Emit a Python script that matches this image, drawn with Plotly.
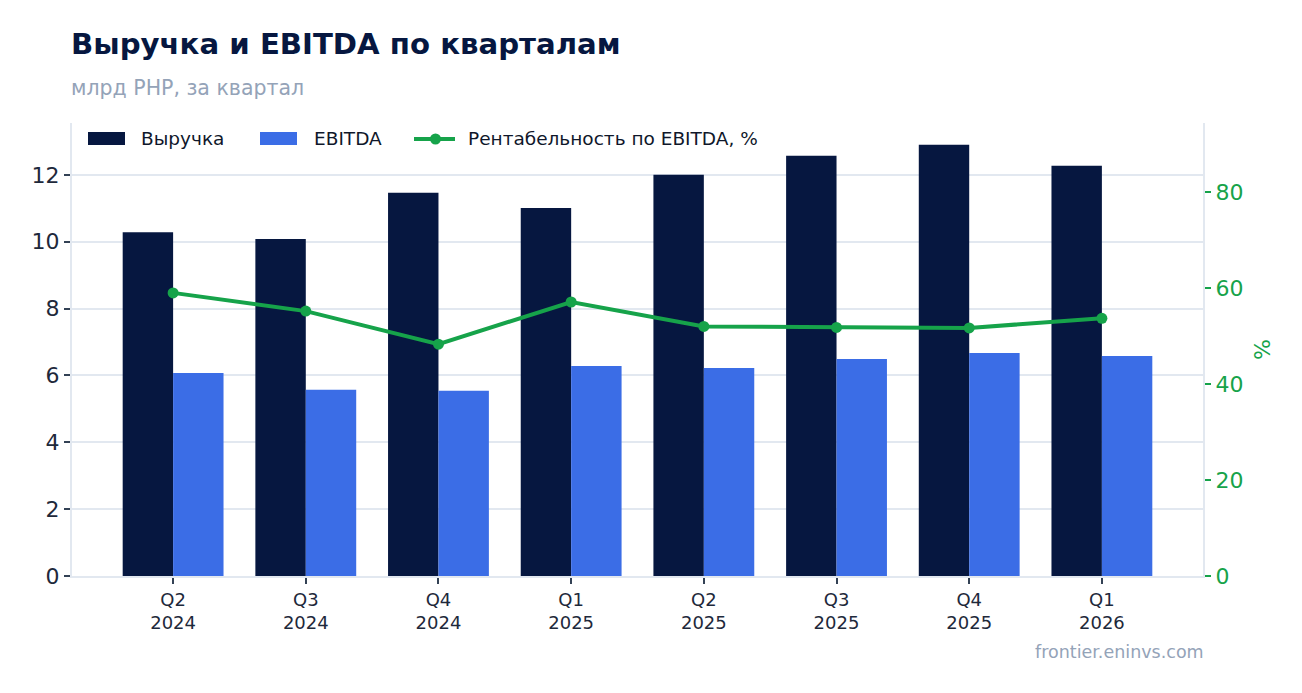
import plotly.graph_objects as go

quarters = ["Q2<br>2024", "Q3<br>2024", "Q4<br>2024", "Q1<br>2025", "Q2<br>2025", "Q3<br>2025", "Q4<br>2025", "Q1<br>2026"]
revenue = [10.28, 10.08, 11.46, 11.01, 12.00, 12.57, 12.90, 12.27]
ebitda = [6.07, 5.57, 5.54, 6.28, 6.22, 6.49, 6.67, 6.58]
margin = [59.0, 55.2, 48.3, 57.1, 52.0, 51.8, 51.7, 53.7]
series_names = ["Выручка", "EBITDA", "Рентабельность по EBITDA, %"]

NAVY = "#061740"
BLUE = "#3b6de6"
GREEN = "#16a34a"
GRID = "#e2e8f0"
FONT = "DejaVu Sans"

W, H = 1286, 677
L, R, T, B = 64, 91, 115, 109
PW, PH = W - L - R, H - T - B


def px(x):
    return (x - L) / PW


def py(y):
    return 1 - (y - T) / PH


fig = go.Figure()
fig.add_trace(go.Bar(x=quarters, y=revenue, name=series_names[0], marker_color=NAVY, marker_line_width=0))
fig.add_trace(go.Bar(x=quarters, y=ebitda, name=series_names[1], marker_color=BLUE, marker_line_width=0))
fig.add_trace(go.Scatter(x=quarters, y=margin, name=series_names[2], yaxis="y2",
                         mode="lines+markers", line=dict(color=GREEN, width=4),
                         marker=dict(color=GREEN, size=11)))

# custom legend (symbols + labels), positioned in paper space
ly = 131
shapes = [
    dict(type="rect", xref="paper", yref="paper", x0=px(80), x1=px(117), y0=py(124), y1=py(137),
         fillcolor=NAVY, line_width=0, layer="above"),
    dict(type="rect", xref="paper", yref="paper", x0=px(252), x1=px(289), y0=py(124), y1=py(137),
         fillcolor=BLUE, line_width=0, layer="above"),
    dict(type="line", xref="paper", yref="paper", x0=px(406), x1=px(447), y0=py(ly), y1=py(ly),
         line=dict(color=GREEN, width=4), layer="above"),
    dict(type="circle", xref="paper", yref="paper", x0=px(422), x1=px(433), y0=py(ly - 5.5), y1=py(ly + 5.5),
         fillcolor=GREEN, line_width=0, layer="above"),
]
legend_text_x = [131, 304, 458]
annotations = [
    dict(text=name, xref="paper", yref="paper", x=px(tx), y=py(ly), xanchor="left", yanchor="middle",
         showarrow=False, font=dict(size=18.5, color="#0f172a", family=FONT))
    for name, tx in zip(series_names, legend_text_x)
]
annotations += [
    dict(text="<b>Выручка и EBITDA по кварталам</b>", xref="paper", yref="paper", x=px(61), y=py(36),
         xanchor="left", yanchor="middle", showarrow=False,
         font=dict(size=29.2, color=NAVY, family=FONT)),
    dict(text="млрд РНР, за квартал", xref="paper", yref="paper", x=px(61), y=py(80),
         xanchor="left", yanchor="middle", showarrow=False,
         font=dict(size=20.5, color="#94a3b8", family=FONT)),
    dict(text="frontier.eninvs.com", xref="paper", yref="paper", x=px(1198), y=py(644),
         xanchor="right", yanchor="middle", showarrow=False,
         font=dict(size=17.5, color="#94a3b8", family=FONT)),
]

fig.update_layout(
    width=W, height=H,
    margin=dict(l=L, r=R, t=T, b=B),
    paper_bgcolor="white", plot_bgcolor="white",
    font=dict(family=FONT, color="#0f172a"),
    barmode="group", bargap=0.24, bargroupgap=0,
    showlegend=False,
    xaxis=dict(range=[-0.762, 7.762], showgrid=False, showline=True, linecolor=GRID, linewidth=2,
               ticks="outside", ticklen=6, tickwidth=2, tickcolor="#334155",
               tickfont=dict(size=18, color="#1e293b")),
    yaxis=dict(range=[0, 13.55], dtick=2, showgrid=True, gridcolor=GRID, gridwidth=2,
               showline=True, linecolor=GRID, linewidth=2, zeroline=False,
               ticks="outside", ticklen=6, tickwidth=2, tickcolor="#334155",
               tickfont=dict(size=22, color="#1e293b")),
    yaxis2=dict(range=[0, 94.4], dtick=20, overlaying="y", side="right", showgrid=False,
                showline=True, linecolor=GRID, linewidth=2, zeroline=False,
                ticks="outside", ticklen=6, tickwidth=2, tickcolor=GREEN,
                tickfont=dict(size=22, color=GREEN),
                title=dict(text="%", font=dict(size=22, color=GREEN), standoff=12)),
    shapes=shapes,
    annotations=annotations,
)

fig.write_html("out.html")
